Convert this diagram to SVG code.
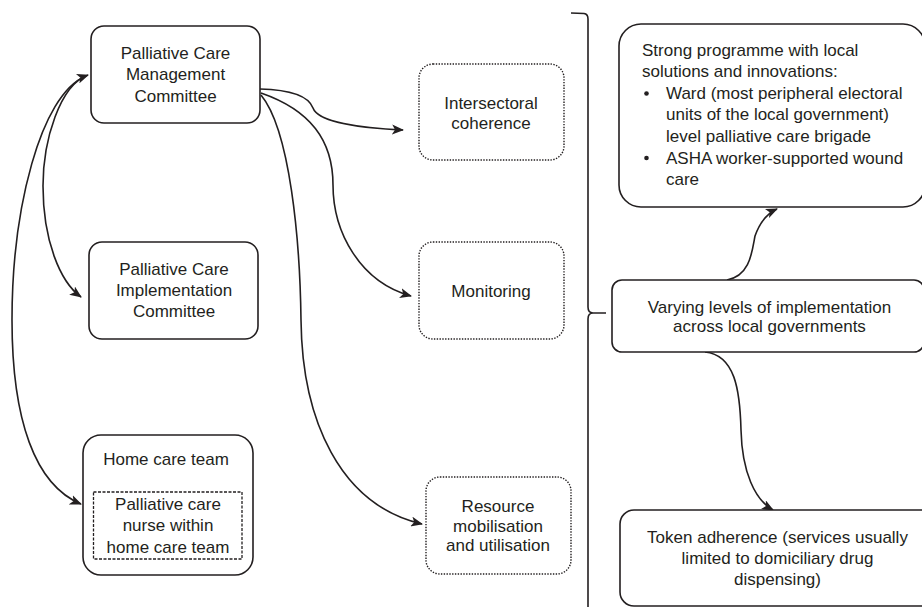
<svg xmlns="http://www.w3.org/2000/svg" width="922" height="607" viewBox="0 0 922 607">
<defs>
<marker id="ah" viewBox="0 0 12 10" refX="11" refY="5" markerWidth="12" markerHeight="10" markerUnits="userSpaceOnUse" orient="auto-start-reverse">
<path d="M0,0 L12,5 L0,10 L3,5 Z" fill="#231f20"/>
</marker>
</defs>
<style>
.box{fill:#fff;stroke:#231f20;stroke-width:1.6}
.dot{fill:#fff;stroke:#231f20;stroke-width:1.4;stroke-dasharray:1.4 1.4}
.dash{fill:none;stroke:#231f20;stroke-width:1.3;stroke-dasharray:3 1.5}
.t{font-family:"Liberation Sans",Arial,sans-serif;font-size:17px;fill:#231f20;text-anchor:middle}
.tl{font-family:"Liberation Sans",Arial,sans-serif;font-size:17px;fill:#231f20}
.c{fill:none;stroke:#231f20;stroke-width:1.6}
</style>
<rect width="922" height="607" fill="#fff"/>
<g id="connectors">
<path class="c" d="M88,75 C60,85 43,140 43,186 C43,240 60,282 81,297" marker-start="url(#ah)" marker-end="url(#ah)"/>
<path class="c" d="M86,76 C40,95 12,210 12,320 C12,420 35,485 81,504" marker-end="url(#ah)"/>
<path class="c" d="M260,89 C300,90 310,100 313,108 C318,122 360,128 403,130" marker-end="url(#ah)"/>
<path class="c" d="M261,93 C310,110 333,140 333,185 C333,232 360,282 411,296" marker-end="url(#ah)"/>
<path class="c" d="M261,95 C290,130 300,240 301,320 C302,420 340,505 422,524" marker-end="url(#ah)"/>
<path class="c" d="M727,280 C750,276 752,252 755,236 C760,222 768,213 777,209" marker-end="url(#ah)"/>
<path class="c" d="M705,352 C735,355 740,390 741,430 C742,472 755,500 773,510" marker-end="url(#ah)"/>
<path class="c" d="M571,13 L584,13.5 Q588,14 588,19 L588,307 Q588,313 593,313 L606,313 M593,313 Q588,313 588,319 L588,607"/>
</g>
<g id="pcmc">
<rect class="box" x="91" y="26" width="169" height="97" rx="13"/>
<text class="t" x="175.5" y="59">Palliative Care</text>
<text class="t" x="175.5" y="80">Management</text>
<text class="t" x="175.5" y="102">Committee</text>
</g>
<g id="pcic">
<rect class="box" x="89" y="242" width="169" height="97" rx="13"/>
<text class="t" x="174" y="275">Palliative Care</text>
<text class="t" x="174" y="296">Implementation</text>
<text class="t" x="174" y="317">Committee</text>
</g>
<g id="hct">
<rect class="box" x="83" y="435" width="170" height="140" rx="18"/>
<text class="t" x="166" y="465">Home care team</text>
<rect class="dash" x="93.5" y="492" width="148.5" height="67"/>
<text class="t" x="168" y="510">Palliative care</text>
<text class="t" x="168" y="531">nurse within</text>
<text class="t" x="168" y="553">home care team</text>
</g>
<g id="intersectoral">
<rect class="dot" x="419" y="64" width="145" height="96" rx="14"/>
<text class="t" x="491" y="109">Intersectoral</text>
<text class="t" x="491" y="129">coherence</text>
</g>
<g id="monitoring">
<rect class="dot" x="419" y="242" width="145" height="97" rx="14"/>
<text class="t" x="491" y="297">Monitoring</text>
</g>
<g id="resource">
<rect class="dot" x="426" y="477" width="145" height="97" rx="14"/>
<text class="t" x="498" y="512">Resource</text>
<text class="t" x="498" y="532">mobilisation</text>
<text class="t" x="498" y="551">and utilisation</text>
</g>
<g id="strong">
<rect class="box" x="619" y="24" width="306" height="183" rx="22"/>
<text class="tl" x="642" y="56">Strong programme with local</text>
<text class="tl" x="642" y="77">solutions and innovations:</text>
<circle cx="646.5" cy="93.5" r="2.3" fill="#231f20"/>
<text class="tl" x="666" y="99">Ward (most peripheral electoral</text>
<text class="tl" x="666" y="120">units of the local government)</text>
<text class="tl" x="666" y="142">level palliative care brigade</text>
<circle cx="646.5" cy="158" r="2.3" fill="#231f20"/>
<text class="tl" x="666" y="164">ASHA worker-supported wound</text>
<text class="tl" x="666" y="185">care</text>
</g>
<g id="varying">
<rect class="box" x="612" y="280" width="312" height="72" rx="10"/>
<text class="t" x="769.5" y="313">Varying levels of implementation</text>
<text class="t" x="769.5" y="332">across local governments</text>
</g>
<g id="token">
<rect class="box" x="620" y="510" width="320" height="96" rx="14"/>
<text class="t" x="777.5" y="543">Token adherence (services usually</text>
<text class="t" x="777.5" y="564">limited to domiciliary drug</text>
<text class="t" x="777.5" y="585">dispensing)</text>
</g>
</svg>
